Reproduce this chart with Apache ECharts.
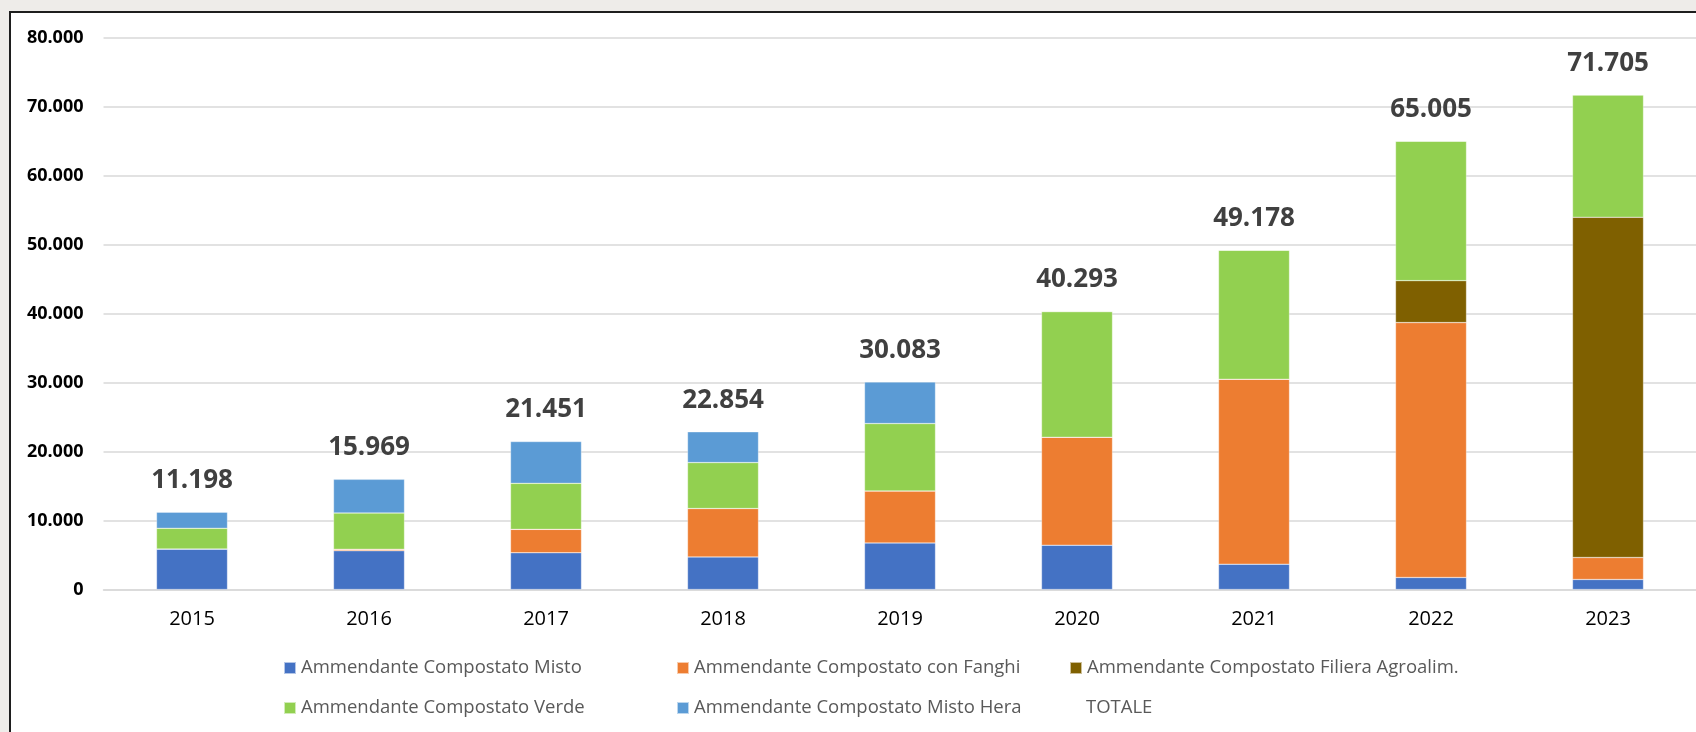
<!DOCTYPE html>
<html>
<head>
<meta charset="utf-8">
<title>Ammendante Compostato</title>
<script src="https://cdn.jsdelivr.net/npm/echarts@6/dist/echarts.min.js"></script>
<style>
    html, body { margin: 0; padding: 0; background: #eeece9; overflow: hidden; }
    #panel {
        position: absolute; left: 9px; top: 11px;
        width: 1700px; height: 740px;
        border-left: 2px solid #1e1e1e; border-top: 2px solid #1e1e1e;
        background: #fff;
    }
</style>
</head>
<body>
<div id="panel"></div>
<script>
// dati
var anni = ['2015', '2016', '2017', '2018', '2019', '2020', '2021', '2022', '2023'];
var misto   = [5870, 5620, 5330, 4725, 6750, 6420, 3670, 1740, 1450];
var fanghi  = [0, 210, 3390, 7015, 7540, 15650, 26810, 36960, 3190];
var filiera = [0, 0, 0, 0, 0, 0, 0, 6080, 49320];
var verde   = [3000, 5260, 6670, 6660, 9770, 18223, 18698, 20225, 17745];
var hera    = [2328, 4879, 6061, 4454, 6023, 0, 0, 0, 0];
var totale  = [11198, 15969, 21451, 22854, 30083, 40293, 49178, 65005, 71705];

var font = 'Open Sans';

function fmt(v) {
    // separatore migliaia italiano
    return String(v).replace(/\B(?=(\d{3})+(?!\d))/g, '.');
}

function barra(nome, dati, colore) {
    return {
        name: nome,
        type: 'bar',
        stack: 'tot',
        barWidth: 71,
        data: dati,
        itemStyle: { color: colore, borderColor: 'rgba(255,255,255,0.6)', borderWidth: 0.5 },
        emphasis: { disabled: true }
    };
}

var chart = echarts.init(document.getElementById('panel'));

var option = {
    animation: false,
    textStyle: { fontFamily: font },
    grid: { left: 92.5, top: 24.7, width: 1593, height: 551.8 },
    legend: {
        left: 272,
        top: 645,
        width: 1200,
        padding: 0,
        icon: 'rect',
        itemWidth: 12,
        itemHeight: 12,
        itemGap: 20,
        selectedMode: false,
        textStyle: { fontFamily: font, fontSize: 18.5, color: '#595959', width: 355, lineHeight: 20 },
        data: [
            'Ammendante Compostato Misto',
            'Ammendante Compostato con Fanghi',
            'Ammendante Compostato Filiera Agroalim.',
            'Ammendante Compostato Verde',
            'Ammendante Compostato Misto Hera',
            { name: 'TOTALE', itemStyle: { color: 'rgba(0,0,0,0)' }, lineStyle: { opacity: 0 } }
        ]
    },
    xAxis: {
        type: 'category',
        data: anni,
        axisTick: { show: false },
        axisLine: { lineStyle: { color: '#d9d9d9', width: 1.5 } },
        axisLabel: { fontFamily: font, fontSize: 20, color: '#000', margin: 20 }
    },
    yAxis: {
        type: 'value',
        min: 0,
        max: 80000,
        interval: 10000,
        axisLine: { show: false },
        axisTick: { show: false },
        splitLine: { lineStyle: { color: '#d9d9d9', width: 1.5 } },
        axisLabel: { fontFamily: font, fontSize: 18, fontWeight: 'bold', color: '#000', margin: 20, formatter: fmt }
    },
    series: [
        barra('Ammendante Compostato Misto', misto, '#4472c4'),
        barra('Ammendante Compostato con Fanghi', fanghi, '#ed7d31'),
        barra('Ammendante Compostato Filiera Agroalim.', filiera, '#7f6000'),
        barra('Ammendante Compostato Verde', verde, '#92d050'),
        barra('Ammendante Compostato Misto Hera', hera, '#5b9bd5'),
        {
            name: 'TOTALE',
            type: 'line',
            data: totale,
            symbol: 'circle',
            symbolSize: 1,
            itemStyle: { color: 'rgba(0,0,0,0)' },
            lineStyle: { opacity: 0 },
            emphasis: { disabled: true },
            label: {
                show: true,
                position: 'top',
                distance: 18,
                fontFamily: font,
                fontSize: 26,
                fontWeight: 'bold',
                color: '#404040',
                formatter: function (p) { return fmt(p.value); }
            }
        }
    ]
};

chart.setOption(option);
</script>
</body>
</html>
